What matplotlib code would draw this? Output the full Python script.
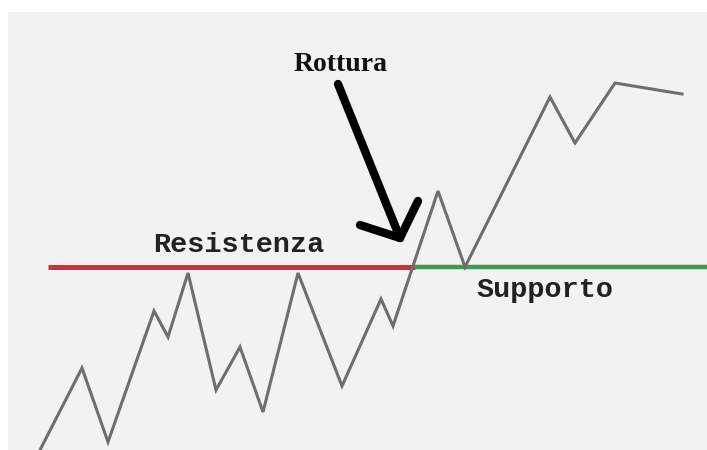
import matplotlib.pyplot as plt
from matplotlib.patches import Rectangle

# prezzo (coordinate, asse y verso il basso)
price_x = [40, 82, 108, 154, 168, 188, 216, 240, 263, 298, 342, 381, 393, 438, 465, 550, 575, 615, 682]
price_y = [450, 368, 442, 311, 337, 273, 390, 347, 412, 273, 386, 299, 326, 191, 267, 97, 143, 83, 94]

# livello resistenza / supporto
level_y = 267
resist_x = [48, 415]
support_x = [415, 707]

# freccia "Rottura"
arrow_shaft = [(338, 84), (400, 238)]
arrow_wing_left = [(360, 225), (400, 238)]
arrow_wing_right = [(418, 201), (400, 238)]

labels = {
    'Rottura': (341, 71),
    'Resistenza': (153, 252),
    'Supporto': (476, 297),
}

fig = plt.figure(figsize=(7.07, 4.5), dpi=100)
fig.patch.set_facecolor('white')
ax = fig.add_axes([0, 0, 1, 1])
ax.set_xlim(0, 707)
ax.set_ylim(450, 0)
ax.axis('off')

ax.add_patch(Rectangle((8, 12), 699, 438, facecolor='#f2f2f2', edgecolor='none', zorder=0))

ax.plot(resist_x, [level_y, level_y], color='#c4353d', linewidth=3.6, solid_capstyle='butt', zorder=2)
ax.plot(support_x, [level_y, level_y], color='#3f9a52', linewidth=3.2, solid_capstyle='butt', zorder=2)

ax.plot(price_x, price_y, color='#6e6e6e', linewidth=2.2, solid_joinstyle='miter', zorder=3)

for seg in (arrow_shaft, arrow_wing_left, arrow_wing_right):
    xs, ys = zip(*seg)
    ax.plot(xs, ys, color='black', linewidth=6, solid_capstyle='round', zorder=4)

x, y = labels['Rottura']
ax.text(x, y, 'Rottura', family='Liberation Serif', fontweight='bold', fontsize=20,
        ha='center', va='baseline', color='#111111')
x, y = labels['Resistenza']
ax.text(x, y, 'Resistenza', family='Liberation Mono', fontweight='bold', fontsize=20.5,
        ha='left', va='baseline', color='#222222')
x, y = labels['Supporto']
ax.text(x, y, 'Supporto', family='Liberation Mono', fontweight='bold', fontsize=20.5,
        ha='left', va='baseline', color='#222222')

plt.savefig('out.png', dpi=100)
